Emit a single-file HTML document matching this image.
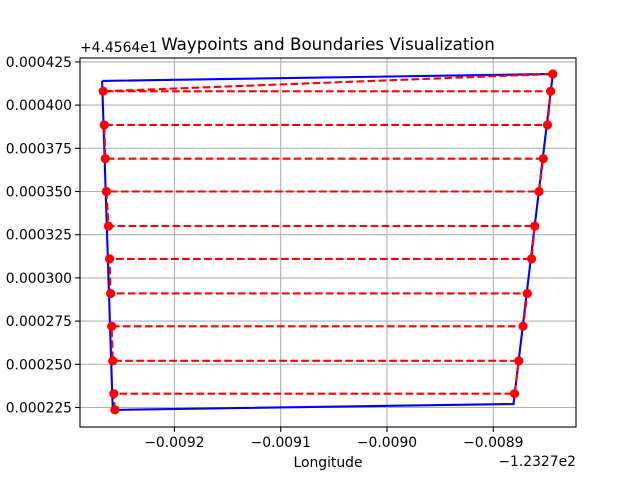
<!DOCTYPE html>
<html><head><meta charset="utf-8"><style>
body{margin:0;background:#fff;font-family:"Liberation Sans","DejaVu Sans",sans-serif}
svg text{font-family:"DejaVu Sans","Liberation Sans",sans-serif}
</style></head><body>
<svg id="chart" width="640" height="480"></svg>
<script>
// data (offsets: lon + -123.27, lat + 44.564)
const xTicks=[-0.0092,-0.0091,-0.0090,-0.0089];
const xTickLabels=["−0.0092","−0.0091","−0.0090","−0.0089"];
const yTicks=[0.000225,0.000250,0.000275,0.000300,0.000325,0.000350,0.000375,0.000400,0.000425];
const yTickLabels=["0.000225","0.000250","0.000275","0.000300","0.000325","0.000350","0.000375","0.000400","0.000425"];
const boundaryLon=[-0.009268,-0.008844,-0.008881,-0.009258,-0.009268];
const boundaryLat=[0.000414,0.000418,0.000227,0.0002236,0.000414];
const waypointLon=[-0.009256,-0.009257,-0.008880,-0.008876,-0.009258,-0.009259,-0.008872,-0.008868,-0.009260,-0.009261,-0.008864,-0.008861,-0.009262,-0.009264,-0.008857,-0.008853,-0.009265,-0.009266,-0.008849,-0.008846,-0.009267,-0.008844];
const waypointLat=[0.0002236,0.000233,0.000233,0.000252,0.000252,0.000272,0.000272,0.000291,0.000291,0.000311,0.000311,0.000330,0.000330,0.000350,0.000350,0.000369,0.000369,0.0003885,0.0003885,0.000408,0.000408,0.000418];

const L=80,R=576,T=58,B=427;
const X=v=>387+(v+0.0090)*1063000;
const Y=v=>407.5-(v-0.000225)/0.000025*43.2;
const svg=document.getElementById('chart');
const NS='http://www.w3.org/2000/svg';
function mk(tag,attrs,parent){const e=document.createElementNS(NS,tag);for(const k in attrs)e.setAttribute(k,attrs[k]);(parent||svg).appendChild(e);return e;}

const grid=mk('g',{});


xTicks.forEach((v,i)=>{
  const x=X(v);
  mk('line',{x1:x,x2:x,y1:T,y2:B,stroke:'#b0b0b0','stroke-width':1.1},grid);
  const tk=mk('line',{x1:x,x2:x,y1:B,y2:B+4.9,stroke:'#000','stroke-width':1.1});
  
  
  const t=mk('text',{x:x,y:B+20,'font-size':13.9,'text-anchor':'middle'});
  t.textContent=xTickLabels[i];
  
  
});
yTicks.forEach((v,i)=>{
  const y=Y(v);
  mk('line',{x1:L,x2:R,y1:y,y2:y,stroke:'#b0b0b0','stroke-width':1.1},grid);
  const tk=mk('line',{x1:L-4.9,x2:L,y1:y,y2:y,stroke:'#000','stroke-width':1.1});
  
  
  const t=mk('text',{x:L-8,y:y+5,'font-size':13.9,'text-anchor':'end'});
  t.textContent=yTickLabels[i];
  
  
});

const bp=boundaryLon.map((v,i)=>X(v)+','+Y(boundaryLat[i])).join(' ');
const boundary=mk('polyline',{points:bp,fill:'none',stroke:'#0000ff','stroke-width':2.1});



const wp=waypointLon.map((v,i)=>X(v)+','+Y(waypointLat[i])).join(' ');
const path=mk('polyline',{points:wp,fill:'none',stroke:'#ff0000','stroke-width':2.1,'stroke-dasharray':'7.7,3.3'});


waypointLon.forEach((v,i)=>{
  const c=mk('circle',{cx:X(v),cy:Y(waypointLat[i]),r:4.6,fill:'#ff0000'});
  
  
});

const frame=mk('rect',{x:L,y:T,width:R-L,height:B-T,fill:'none',stroke:'#000','stroke-width':1.1});



function txt(s,x,y,size,anchor,name){const t=mk('text',{x:x,y:y,'font-size':size,'text-anchor':anchor});t.textContent=s;
  
  return t;}
txt('Waypoints and Boundaries Visualization',328,50,16.7,'middle','chart-title');
txt('+4.4564e1',80,52,13.9,'start','y-offset-text');
txt('Longitude',328,467,13.9,'middle','x-axis-title');
txt('−1.2327e2',576,466,13.9,'end','x-offset-text');
</script>
</body></html>
